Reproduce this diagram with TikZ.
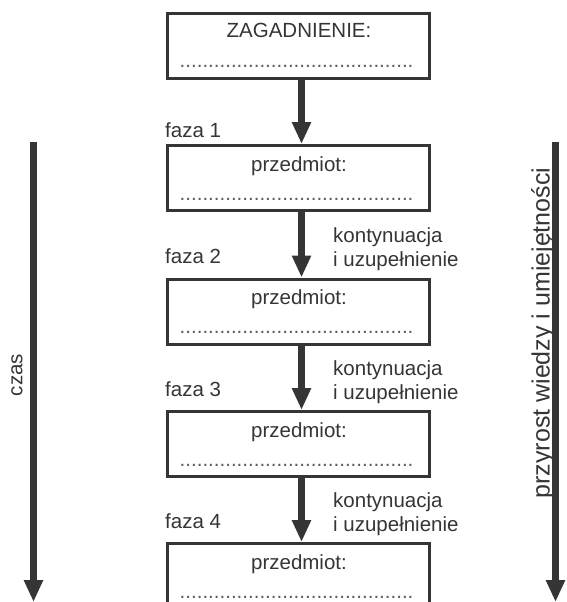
\documentclass[tikz,border=0pt]{standalone}
\usepackage{fontspec}
\setmainfont{Liberation Sans}
\usetikzlibrary{arrows.meta}
\definecolor{dk}{HTML}{353535}
\begin{document}
\begin{tikzpicture}[x=1pt,y=-1pt,
  box/.style={draw=dk, line width=3pt, minimum width=262.5pt, minimum height=65pt, inner sep=0pt, anchor=north west},
  lbl/.style={text=dk, font=\fontsize{20.5}{24}\selectfont, inner sep=0pt},
  dots/.style={text=dk!80, font=\fontsize{20.5}{24}\selectfont, inner sep=0pt},
  flow/.style={draw=dk, line width=7pt, -{Triangle[length=22pt,width=18pt]}},
]
\useasboundingbox (0,0) rectangle (566,602);
\clip (0,0) rectangle (566,602);
% top box
\node[box] (b0) at (165.5,12) {};
\node[lbl, anchor=base] (t0) at (299,37.5) {ZAGADNIENIE:};
\node[dots, anchor=base] (d0) at (296.5,67) {.........................................};
% phase boxes
\foreach \i/\y in {1/144,2/277.5,3/410,4/542}{
  \node[box] (b\i) at (165.5,\y) {};
  \node[lbl, anchor=base] (t\i) at (299,\y+27) {przedmiot:};
  \node[dots, anchor=base] (d\i) at (296.5,\y+56) {.........................................};
}
\node[lbl, anchor=base west] (f1) at (165,137) {faza 1};
\foreach \i/\y in {2/277.5,3/410,4/542}{
  \node[lbl, anchor=base west] (f\i) at (165,\y-14) {faza \i};
  \node[lbl, anchor=base west] (k\i) at (333,\y-35) {kontynuacja};
  \node[lbl, anchor=base west] (u\i) at (333,\y-11) {i uzupełnienie};
}
% flow arrows
\foreach \a/\b in {0/1,1/2,2/3,3/4}{
  \draw[flow] ([xshift=3.25pt]b\a.south) -- ([xshift=3.25pt]b\b.north);
}
% side arrows
\coordinate (ltop) at (33.5,142);
\coordinate (lbot) at (33.5,602);
\coordinate (rtop) at (555.5,142);
\coordinate (rbot) at (555.5,602);
\draw[flow] (ltop) -- (lbot);
\draw[flow] (rtop) -- (rbot);
\node[lbl, rotate=90] (czas) at (17,375) {czas};
\node[lbl, rotate=90, font=\fontsize{25}{30}\selectfont] (przy) at (543,333) {przyrost wiedzy i umiejętności};
\end{tikzpicture}
\end{document}
